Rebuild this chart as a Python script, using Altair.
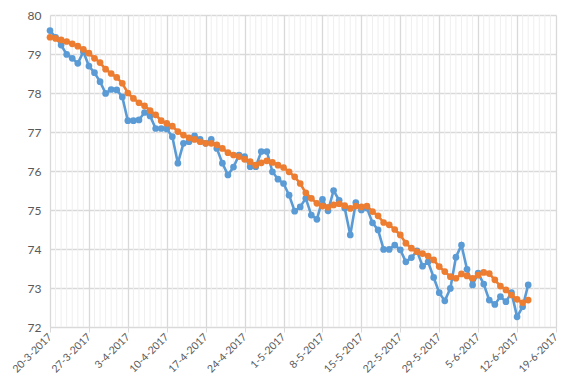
import altair as alt
import pandas as pd

# Daily weight (blue) and moving average (orange), starting 20-3-2017
weight = [
    79.60, 79.43, 79.23, 78.99, 78.89, 78.76, 79.06, 78.69, 78.52, 78.29,
    77.99, 78.09, 78.08, 77.90, 77.29, 77.29, 77.31, 77.50, 77.41, 77.09,
    77.09, 77.08, 76.88, 76.20, 76.71, 76.75, 76.90, 76.81, 76.71, 76.81,
    76.58, 76.20, 75.90, 76.10, 76.41, 76.37, 76.11, 76.11, 76.50, 76.50,
    75.98, 75.79, 75.68, 75.38, 74.97, 75.08, 75.30, 74.87, 74.76, 75.27,
    74.98, 75.50, 75.25, 75.05, 74.36, 75.19, 75.00, 75.05, 74.67, 74.49,
    73.99, 73.99, 74.10, 73.98, 73.67, 73.78, 73.95, 73.56, 73.67, 73.27,
    72.88, 72.67, 72.99, 73.79, 74.10, 73.48, 73.08, 73.38, 73.10, 72.69,
    72.58, 72.78, 72.65, 72.88, 72.26, 72.52, 73.08,
]
average = [
    79.43, 79.40, 79.36, 79.32, 79.26, 79.20, 79.12, 79.02, 78.89, 78.78,
    78.61, 78.50, 78.40, 78.25, 78.00, 77.86, 77.75, 77.67, 77.55, 77.44,
    77.29, 77.22, 77.15, 77.01, 76.92, 76.85, 76.81, 76.75, 76.71, 76.71,
    76.67, 76.58, 76.47, 76.41, 76.37, 76.30, 76.24, 76.15, 76.21, 76.26,
    76.22, 76.15, 76.09, 75.98, 75.85, 75.68, 75.44, 75.30, 75.17, 75.10,
    75.07, 75.13, 75.16, 75.11, 75.04, 75.10, 75.08, 75.10, 74.96, 74.85,
    74.68, 74.62, 74.50, 74.36, 74.15, 74.02, 73.93, 73.88, 73.82, 73.72,
    73.55, 73.42, 73.29, 73.25, 73.36, 73.31, 73.25, 73.33, 73.40, 73.37,
    73.21, 73.05, 72.95, 72.82, 72.71, 72.62, 72.69,
]
start_date = "2017-03-20"
end_date = "2017-06-19"
y_ticks = [72, 73, 74, 75, 76, 77, 78, 79, 80]

dates = pd.date_range(start_date, periods=len(weight), freq="D")
df = pd.DataFrame({"date": dates, "weight": weight, "average": average})

week_ticks = pd.date_range(start_date, end_date, freq="7D")
all_days = pd.date_range(start_date, end_date, freq="D")
minor_df = pd.DataFrame({"date": [d for d in all_days if d not in set(week_ticks)]})

def dt(d):
    return alt.DateTime(year=d.year, month=d.month, date=d.day)

FONT = "Lato"
x_enc = alt.X(
    "date:T",
    scale=alt.Scale(domain=[dt(pd.Timestamp(start_date)), dt(pd.Timestamp(end_date))], nice=False),
    axis=alt.Axis(
        values=[dt(d) for d in week_ticks],
        format="%-d-%-m-%Y",
        labelAngle=-45,
        labelAlign="right",
        labelBaseline="middle",
        labelPadding=3,
        labelFontSize=10.5,
        labelFont=FONT,
        labelColor="#595959",
        grid=True,
        gridColor="#d9d9d9",
        gridWidth=1.3,
        domainColor="#d9d9d9",
        tickColor="#d9d9d9",
        tickSize=5,
        title=None,
        labelOverlap=False,
    ),
)
y_axis = alt.Axis(
    values=y_ticks,
    grid=True,
    gridColor="#d9d9d9",
    gridWidth=1.3,
    domain=False,
    ticks=False,
    labelFontSize=12,
    labelFont=FONT,
    labelColor="#595959",
    labelPadding=9,
    title=None,
)
y_scale = alt.Scale(domain=[72, 80], nice=False, zero=False)

minor = alt.Chart(minor_df).mark_rule(color="#efefef", strokeWidth=1).encode(x=x_enc)

blue = alt.Chart(df).mark_line(
    color="#5B9BD5", strokeWidth=2.6,
    point=alt.OverlayMarkDef(filled=True, size=45, color="#5B9BD5", opacity=1),
).encode(x=x_enc, y=alt.Y("weight:Q", scale=y_scale, axis=y_axis))

orange = alt.Chart(df).mark_line(
    color="#ED7D31", strokeWidth=2.6,
    point=alt.OverlayMarkDef(filled=True, size=45, color="#ED7D31", opacity=1),
).encode(x=x_enc, y=alt.Y("average:Q", scale=y_scale, axis=y_axis))

chart = alt.layer(minor, blue, orange).properties(
    width=506,
    height=312,
    padding={"left": 42, "top": 7, "right": 16, "bottom": 56},
    autosize=alt.AutoSizeParams(type="none"),
    background="white",
).configure_view(stroke=None)

chart.save("out.html", embed_options={"renderer": "svg", "actions": False})
